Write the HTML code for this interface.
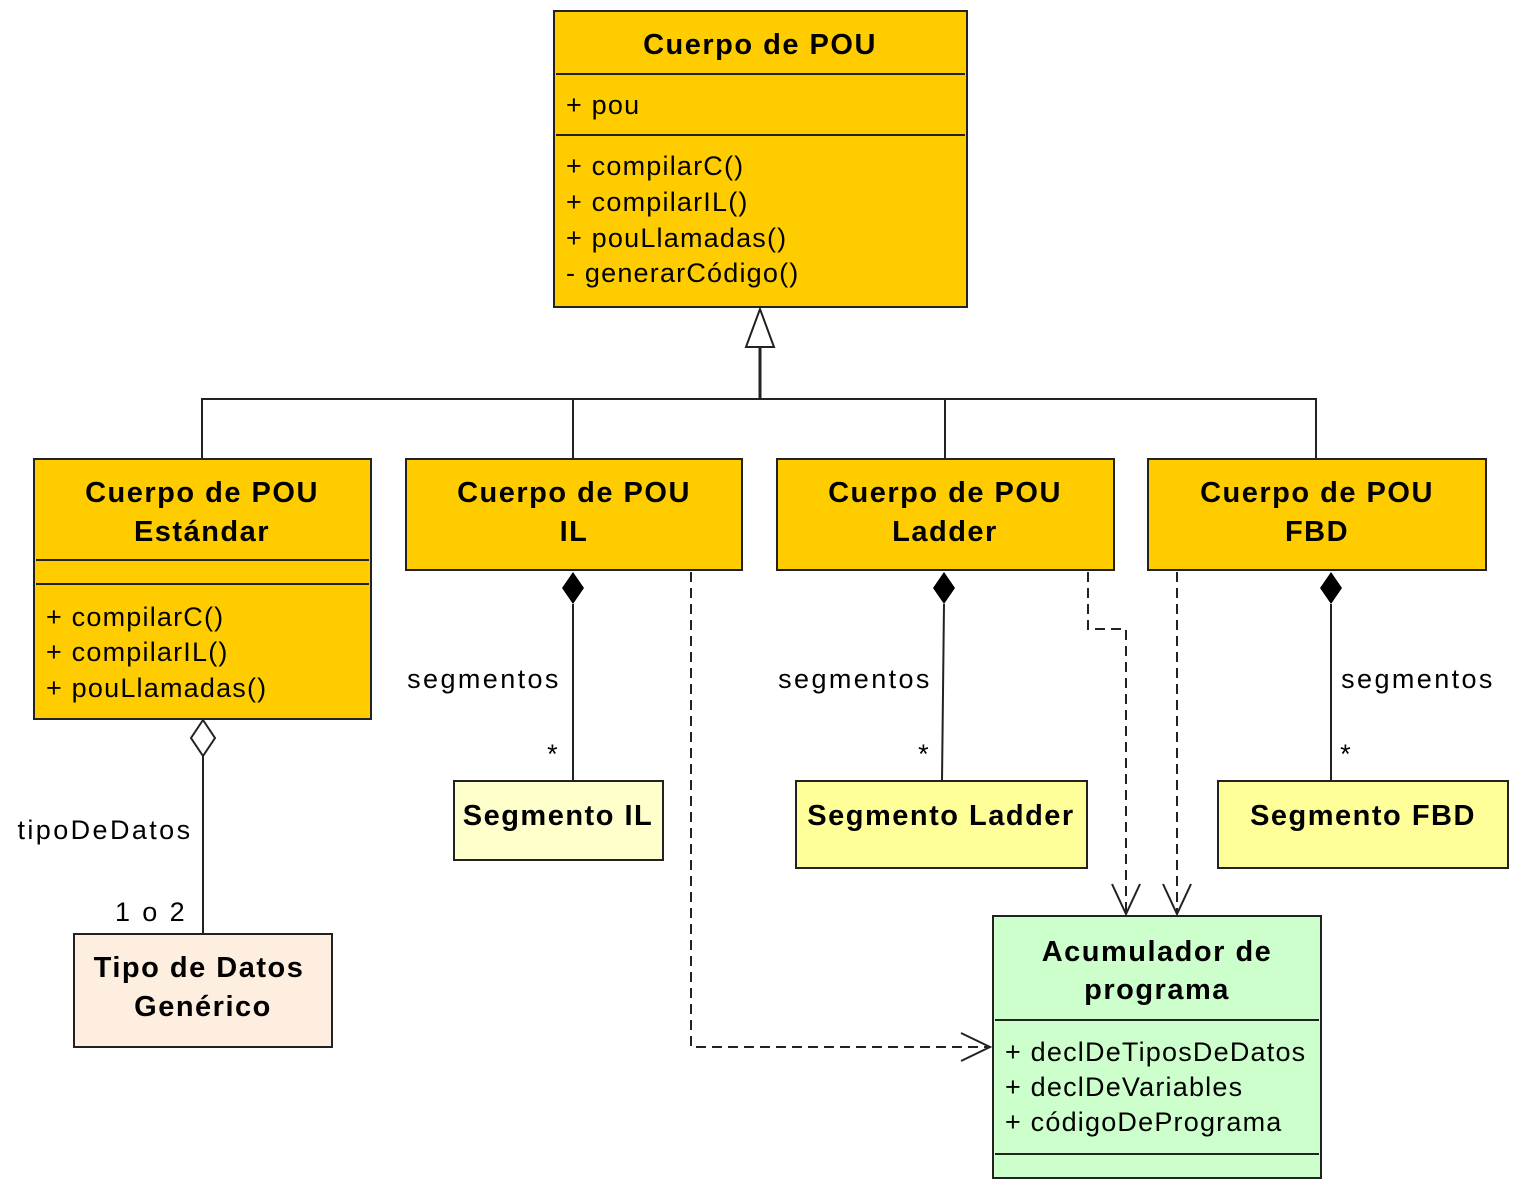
<!DOCTYPE html>
<html><head><meta charset="utf-8"><style>html,body{margin:0;padding:0;background:#fff}</style></head><body>
<svg width="1518" height="1188" viewBox="0 0 1518 1188" xmlns="http://www.w3.org/2000/svg" font-family="Liberation Sans, Arial, sans-serif" fill="#000">
<defs>
<style>.b{font-weight:bold;font-size:29px;letter-spacing:1.5px;text-anchor:middle}.t{font-size:27px;letter-spacing:1.2px}.l{font-size:27px;letter-spacing:2.4px;text-anchor:middle}.box{stroke:#222;stroke-width:2}</style>
</defs>
<rect class="box" x="554" y="11" width="413" height="296" fill="#ffcc00"/>
<line x1="556" y1="74" x2="965" y2="74" stroke="#222" stroke-width="2"/>
<line x1="556" y1="135" x2="965" y2="135" stroke="#222" stroke-width="2"/>
<text class="b" x="760" y="54">Cuerpo de POU</text>
<text class="t" x="566" y="114">+ pou</text>
<text class="t" x="566" y="175">+ compilarC()</text>
<text class="t" x="566" y="211">+ compilarIL()</text>
<text class="t" x="566" y="247">+ pouLlamadas()</text>
<text class="t" x="566" y="282">- generarCódigo()</text>
<polygon points="760,309 746,347 774,347" fill="#fff" stroke="#222" stroke-width="2"/>
<line x1="760" y1="347" x2="760" y2="399" stroke="#222" stroke-width="3"/>
<polyline points="202,459 202,399 1316,399 1316,459" fill="none" stroke="#222" stroke-width="2"/>
<line x1="573" y1="399" x2="573" y2="459" stroke="#222" stroke-width="2"/>
<line x1="945" y1="399" x2="945" y2="459" stroke="#222" stroke-width="2"/>
<rect class="box" x="34" y="459" width="337" height="260" fill="#ffcc00"/>
<line x1="36" y1="560" x2="369" y2="560" stroke="#222" stroke-width="2"/>
<line x1="36" y1="584" x2="369" y2="584" stroke="#222" stroke-width="2"/>
<text class="b" x="202" y="502">Cuerpo de POU</text>
<text class="b" x="202" y="541">Estándar</text>
<text class="t" x="46" y="626">+ compilarC()</text>
<text class="t" x="46" y="661">+ compilarIL()</text>
<text class="t" x="46" y="697">+ pouLlamadas()</text>
<rect class="box" x="406" y="459" width="336" height="111" fill="#ffcc00"/>
<text class="b" x="574" y="502">Cuerpo de POU</text><text class="b" x="574" y="541">IL</text>
<rect class="box" x="777" y="459" width="337" height="111" fill="#ffcc00"/>
<text class="b" x="945" y="502">Cuerpo de POU</text><text class="b" x="945" y="541">Ladder</text>
<rect class="box" x="1148" y="459" width="338" height="111" fill="#ffcc00"/>
<text class="b" x="1317" y="502">Cuerpo de POU</text><text class="b" x="1317" y="541">FBD</text>
<polygon points="573,572 584,588 573,604 562,588"/>
<line x1="573" y1="604" x2="573" y2="781" stroke="#222" stroke-width="2"/>
<polygon points="944,572 955,588 944,604 933,588"/>
<line x1="944" y1="604" x2="942" y2="781" stroke="#222" stroke-width="2"/>
<polygon points="1331,572 1342,588 1331,604 1320,588"/>
<line x1="1331" y1="604" x2="1331" y2="781" stroke="#222" stroke-width="2"/>
<text class="l" x="484" y="688">segmentos</text>
<text class="l" x="855" y="688">segmentos</text>
<text class="l" x="1418" y="688">segmentos</text>
<text class="t" x="553" y="763" text-anchor="middle">*</text>
<text class="t" x="924" y="763" text-anchor="middle">*</text>
<text class="t" x="1346" y="763" text-anchor="middle">*</text>
<rect class="box" x="454" y="781" width="209" height="79" fill="#ffffcc"/>
<text class="b" x="558" y="825">Segmento IL</text>
<rect class="box" x="796" y="781" width="291" height="87" fill="#ffff99"/>
<text class="b" x="941" y="825">Segmento Ladder</text>
<rect class="box" x="1218" y="781" width="290" height="87" fill="#ffff99"/>
<text class="b" x="1363" y="825">Segmento FBD</text>
<polygon points="203,720 215,738 203,756 191,738" fill="#fff" stroke="#222" stroke-width="2"/>
<line x1="203" y1="756" x2="203" y2="934" stroke="#222" stroke-width="2"/>
<text class="l" x="105" y="839">tipoDeDatos</text>
<text class="l" x="151" y="921">1 o 2</text>
<rect class="box" x="74" y="934" width="258" height="113" fill="#fdeee0"/>
<text class="b" x="199" y="977">Tipo de Datos</text>
<text class="b" x="203" y="1016">Genérico</text>
<rect class="box" x="993" y="916" width="328" height="262" fill="#ccffcc"/>
<line x1="995" y1="1020" x2="1319" y2="1020" stroke="#222" stroke-width="2"/>
<line x1="995" y1="1154" x2="1319" y2="1154" stroke="#222" stroke-width="2"/>
<text class="b" x="1157" y="961">Acumulador de</text>
<text class="b" x="1157" y="999">programa</text>
<text class="t" x="1005" y="1061">+ declDeTiposDeDatos</text>
<text class="t" x="1005" y="1096">+ declDeVariables</text>
<text class="t" x="1005" y="1131">+ códigoDePrograma</text>
<g fill="none" stroke="#222" stroke-width="2" stroke-dasharray="10,6">
<polyline points="691,572 691,1047 988,1047"/>
<polyline points="1088,572 1088,629 1126,629 1126,912"/>
<polyline points="1177,572 1177,912"/>
</g>
<g fill="none" stroke="#222" stroke-width="2">
<polyline points="961,1033 990,1047 961,1061"/>
<polyline points="1112,884 1126,914 1140,884"/>
<polyline points="1163,884 1177,914 1191,884"/>
</g>
</svg>
</body></html>
